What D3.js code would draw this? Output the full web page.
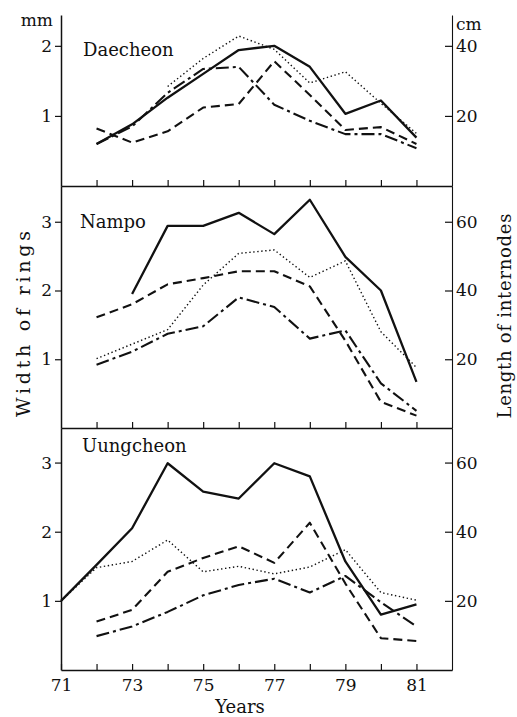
<!DOCTYPE html>
<html>
<head>
<meta charset="utf-8">
<script src="https://cdn.jsdelivr.net/npm/d3@7"></script>
<style>
  body { margin: 0; background: #fff; }
  svg { display: block; }
  text { font-family: "DejaVu Serif", "Liberation Serif", serif; fill: #111; }
</style>
</head>
<body>
<div id="chart"></div>
<script>
var W = 517
var H = 717

// data
var years = [71, 72, 73, 74, 75, 76, 77, 78, 79, 80, 81]
var oddYears = [71, 73, 75, 77, 79, 81]
var tickYears = [72, 73, 74, 75, 76, 77, 78, 79, 80, 81]

var daecheonSolid   = [null, 0.60, 0.88, 1.26, 1.60, 1.94, 2.00, 1.70, 1.03, 1.22, 0.69]
var daecheonDotted  = [null, null, null, 1.42, 1.82, 2.14, 1.95, 1.47, 1.63, 1.18, 0.75]
var daecheonDashed  = [null, 0.82, 0.62, 0.78, 1.12, 1.17, 1.78, 1.30, 0.80, 0.84, 0.60]
var daecheonDashDot = [null, 0.60, 0.85, 1.33, 1.67, 1.70, 1.16, 0.93, 0.74, 0.74, 0.54]

var nampoSolid   = [null, null, 1.95, 2.94, 2.94, 3.13, 2.82, 3.32, 2.49, 2.00, 0.67]
var nampoDotted  = [null, 1.01, 1.22, 1.43, 2.08, 2.54, 2.59, 2.19, 2.43, 1.40, 0.88]
var nampoDashed  = [null, 1.61, 1.80, 2.09, 2.18, 2.28, 2.28, 2.06, 1.27, 0.38, 0.18]
var nampoDashDot = [null, 0.92, 1.11, 1.37, 1.48, 1.90, 1.76, 1.30, 1.42, 0.65, 0.25]

var uungSolid   = [1.00, 1.52, 2.05, 2.99, 2.58, 2.48, 2.99, 2.80, 1.57, 0.80, 0.95]
var uungDotted  = [1.00, 1.48, 1.57, 1.88, 1.42, 1.50, 1.39, 1.49, 1.74, 1.12, 1.01]
var uungDashed  = [null, 0.70, 0.87, 1.42, 1.62, 1.79, 1.55, 2.13, 1.25, 0.46, 0.42]
var uungDashDot = [null, 0.49, 0.63, 0.84, 1.08, 1.23, 1.32, 1.12, 1.36, 0.98, 0.63]

var panelNames = ["Daecheon", "Nampo", "Uungcheon"]
var leftTicks = [[1, 2], [1, 2, 3], [1, 2, 3]]
var rightTicks = [[20, 40], [20, 40, 60], [20, 40, 60]]

var styles = {
  solid:   { width: 2.3, dash: null },
  dotted:  { width: 1.4, dash: "1.4,2.6" },
  dashed:  { width: 2.1, dash: "9,5" },
  dashdot: { width: 2.1, dash: "13,4,3,4" }
}

var panels = [
  { top: 15,  bottom: 186, max: 2.44, name: panelNames[0], nameX: 83, nameY: 56,
    series: { solid: daecheonSolid, dotted: daecheonDotted, dashed: daecheonDashed, dashdot: daecheonDashDot } },
  { top: 186, bottom: 428, max: 3.52, name: panelNames[1], nameX: 80, nameY: 228,
    series: { solid: nampoSolid, dotted: nampoDotted, dashed: nampoDashed, dashdot: nampoDashDot } },
  { top: 428, bottom: 670, max: 3.5,  name: panelNames[2], nameX: 82, nameY: 452,
    series: { solid: uungSolid, dotted: uungDotted, dashed: uungDashed, dashdot: uungDashDot } }
]

var svg = d3.select("#chart").append("svg")
  .attr("width", W)
  .attr("height", H)

var x = d3.scaleLinear().domain([71, 82]).range([61, 452])

panels.forEach(function(p, i) {
  var y = d3.scaleLinear().domain([0, p.max]).range([p.bottom, p.top])
  var y2 = d3.scaleLinear().domain([0, p.max * 20]).range([p.bottom, p.top])
  var g = svg.append("g")

  // left axis
  var gl = g.append("g").attr("transform", "translate(" + x.range()[0] + ",0)")
    .call(d3.axisLeft(y).tickValues(leftTicks[i]).tickFormat(d3.format("d"))
      .tickSize(6).tickSizeOuter(0).tickPadding(3))
  // right axis, ticks point inward
  var gr = g.append("g").attr("transform", "translate(" + x.range()[1] + ",0)")
    .call(d3.axisRight(y2).tickValues(rightTicks[i]).tickFormat(d3.format("d"))
      .tickSize(-7).tickSizeOuter(0).tickPadding(4))
  // bottom axis, ticks point up
  var isLast = i == panels.length - 1
  var gb = g.append("g").attr("transform", "translate(0," + p.bottom + ")")
    .call(d3.axisBottom(x).tickValues(isLast ? years : tickYears).tickSize(-6).tickSizeOuter(0).tickPadding(9)
      .tickFormat(function(d) { return isLast && oddYears.indexOf(d) >= 0 ? d : "" }))

  ;[gl, gr, gb].forEach(function(a) {
    a.select(".domain").attr("stroke", "#111").attr("stroke-width", a === gr ? 1.1 : 1.5)
    a.selectAll(".tick line").attr("stroke", "#111").attr("stroke-width", 1.2)
    a.selectAll("text").attr("font-size", 17).attr("font-family", null).attr("fill", "#111")
  })

  g.append("text")
    .attr("x", p.nameX).attr("y", p.nameY)
    .attr("font-size", 18)
    .text(p.name)

  var line = d3.line()
    .defined(function(d) { return d != null })
    .x(function(d, j) { return x(years[j]) })
    .y(function(d) { return y(d) })

  Object.keys(p.series).forEach(function(key) {
    g.append("path")
      .datum(p.series[key])
      .attr("fill", "none")
      .attr("stroke", "#111")
      .attr("stroke-width", styles[key].width)
      .attr("stroke-dasharray", styles[key].dash)
      .attr("stroke-linejoin", "round")
      .attr("d", line)
  })
})

// unit labels
svg.append("text").attr("x", 53).attr("y", 26).attr("text-anchor", "end").attr("font-size", 17).text("mm")
svg.append("text").attr("x", 456).attr("y", 30).attr("font-size", 17).text("cm")

// axis titles
svg.append("text")
  .attr("transform", "translate(30,324) rotate(-90)")
  .attr("text-anchor", "middle")
  .attr("font-size", 19)
  .attr("textLength", 186)
  .attr("lengthAdjust", "spacing")
  .text("Width of rings")

svg.append("text")
  .attr("transform", "translate(511,316) rotate(-90)")
  .attr("text-anchor", "middle")
  .attr("font-size", 18)
  .attr("textLength", 205)
  .attr("lengthAdjust", "spacing")
  .text("Length of internodes")

svg.append("text")
  .attr("x", 240).attr("y", 713)
  .attr("text-anchor", "middle")
  .attr("font-size", 18)
  .text("Years")
</script>
</body>
</html>
